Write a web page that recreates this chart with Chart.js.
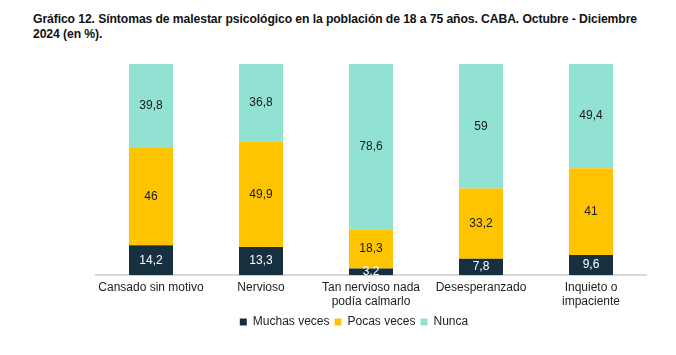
<!DOCTYPE html>
<html>
<head>
<meta charset="utf-8">
<script src="https://cdn.jsdelivr.net/npm/chart.js@4/dist/chart.umd.min.js"></script>
<style>
  html, body { margin: 0; padding: 0; background: #fff; }
  #wrap { position: relative; width: 676px; height: 355px; }
  #title { position: absolute; left: 33px; top: 12px; width: 640px; font-family: "Liberation Sans", Arial, sans-serif; font-weight: bold; font-size: 12.2px; line-height: 15px; color: #111; letter-spacing: -0.1px; white-space: nowrap; }
  canvas { position: absolute; left: 0; top: 0; }
</style>
</head>
<body>
<div id="wrap">
  <div id="title">Gráfico 12. Síntomas de malestar psicológico en la población de 18 a 75 años. CABA. Octubre - Diciembre<br>2024 (en %).</div>
  <canvas id="c" width="676" height="355"></canvas>
</div>
<script>
const categories = [
  "Cansado sin motivo",
  "Nervioso",
  ["Tan nervioso nada", "podía calmarlo"],
  "Desesperanzado",
  ["Inquieto o", "impaciente"]
];
const muchasVeces = [14.2, 13.3, 3.2, 7.8, 9.6];
const pocasVeces = [46, 49.9, 18.3, 33.2, 41];
const nunca = [39.8, 36.8, 78.6, 59, 49.4];
const seriesNames = ["Muchas veces", "Pocas veces", "Nunca"];
const colors = ["#17303f", "#ffc400", "#91e2d3"];
const labelColors = ["#ffffff", "#1a1a1a", "#1a1a1a"];

const fmt = v => String(v).replace('.', ',');

const valueLabels = {
  id: 'valueLabels',
  afterDatasetsDraw(chart) {
    const ctx = chart.ctx;
    ctx.save();
    ctx.font = '12px "Liberation Sans", Arial, sans-serif';
    ctx.textAlign = 'center';
    ctx.textBaseline = 'middle';
    chart.data.datasets.forEach((ds, di) => {
      const meta = chart.getDatasetMeta(di);
      meta.data.forEach((bar, i) => {
        const y = (bar.y + bar.base) / 2;
        ctx.fillStyle = labelColors[di];
        ctx.fillText(fmt(ds.data[i]), bar.x, y);
      });
    });
    ctx.restore();
  }
};

new Chart(document.getElementById('c'), {
  type: 'bar',
  data: {
    labels: categories,
    datasets: [
      { label: seriesNames[0], data: muchasVeces, backgroundColor: colors[0] },
      { label: seriesNames[1], data: pocasVeces, backgroundColor: colors[1] },
      { label: seriesNames[2], data: nunca, backgroundColor: colors[2] }
    ]
  },
  options: {
    responsive: false,
    animation: false,
    layout: { padding: { left: 62, right: 30, top: 64, bottom: 17 } },
    datasets: { bar: { categoryPercentage: 1, barPercentage: 0.4 } },
    scales: {
      x: {
        stacked: true,
        grid: { display: false, tickLength: 5 },
        border: { display: true, color: '#d9d9d9', width: 2 },
        ticks: { color: '#222', font: { family: '"Liberation Sans", Arial, sans-serif', size: 12 }, padding: 0, maxRotation: 0, autoSkip: false },
        afterFit: (axis) => { axis.height += 2; }
      },
      y: {
        stacked: true, display: true, min: 0, max: 100,
        grid: { display: false, drawTicks: false },
        border: { display: false },
        ticks: { display: false },
        afterFit: (axis) => { axis.width = 34; }
      }
    },
    plugins: {
      legend: {
        position: 'bottom',
        labels: { boxWidth: 7, boxHeight: 7, padding: 5, color: '#222', font: { family: '"Liberation Sans", Arial, sans-serif', size: 12 } }
      },
      tooltip: { enabled: false }
    }
  },
  plugins: [valueLabels]
});
</script>
</body>
</html>
